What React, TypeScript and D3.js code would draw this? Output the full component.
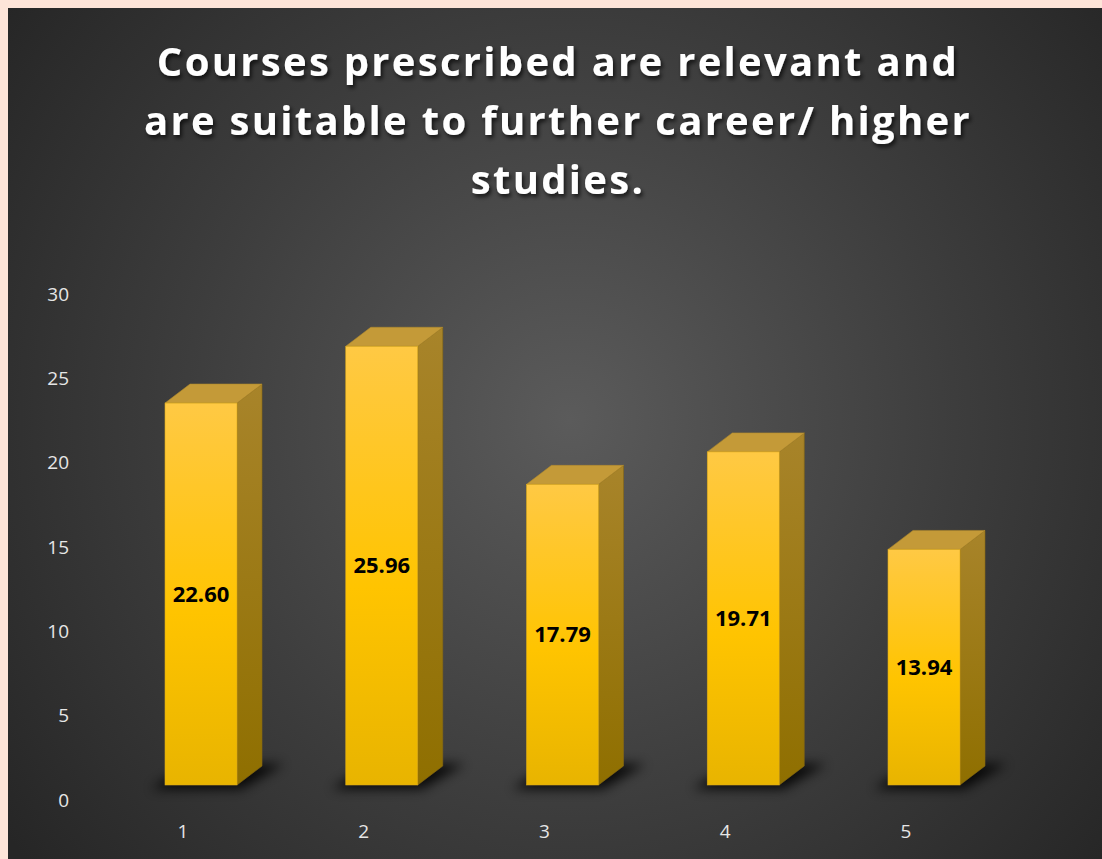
import React from "react";
import * as d3 from "d3";

const categories = ["1", "2", "3", "4", "5"];
const values = [22.6, 25.96, 17.79, 19.71, 13.94];
const valueLabels = ["22.60", "25.96", "17.79", "19.71", "13.94"];
const yTicks = [0, 5, 10, 15, 20, 25, 30];
const titleLines = [
  "Courses prescribed are relevant and",
  "are suitable to further career/ higher",
  "studies.",
];

const W = 1102;
const H = 859;

export default function App() {
  const x = d3.scalePoint<string>().domain(categories).range([183, 906]);
  const yAxis = d3.scaleLinear().domain([0, 30]).range([800, 294]);
  const yBar = d3.scaleLinear().domain([0, 30]).range([785, 278]);
  const barW = 72;
  const frontOffset = 18;
  const dx = 25;
  const dy = -19;
  const font = "'Open Sans', 'DejaVu Sans', sans-serif";

  return (
    <svg
      width={W}
      height={H}
      style={{ position: "absolute", left: 0, top: 0, display: "block" }}
    >
      <defs>
        <radialGradient id="bg" gradientUnits="userSpaceOnUse" cx={570} cy={420} r={700}>
          <stop offset="0" stopColor="#5b5b5b" />
          <stop offset="0.55" stopColor="#3d3d3d" />
          <stop offset="1" stopColor="#262626" />
        </radialGradient>
        <linearGradient id="front" x1="0" y1="0" x2="0" y2="1">
          <stop offset="0" stopColor="#ffc944" />
          <stop offset="0.55" stopColor="#ffc400" />
          <stop offset="1" stopColor="#e8b400" />
        </linearGradient>
        <linearGradient id="side" x1="0" y1="0" x2="0" y2="1">
          <stop offset="0" stopColor="#a8842a" />
          <stop offset="1" stopColor="#8f6f00" />
        </linearGradient>
        <filter id="blur" x="-50%" y="-200%" width="200%" height="500%">
          <feGaussianBlur stdDeviation="6" />
        </filter>
        <filter id="tshadow" x="-10%" y="-30%" width="120%" height="160%">
          <feDropShadow dx="2" dy="3" stdDeviation="2" floodColor="#000" floodOpacity="0.7" />
        </filter>
      </defs>
      <rect x={0} y={0} width={W} height={H} fill="#fde4d8" />
      <rect x={8} y={8} width={W - 8} height={H - 8} fill="url(#bg)" />

      <g filter="url(#tshadow)">
        {titleLines.map((t, i) => (
          <text
            key={i}
            x={558}
            y={76 + i * 59}
            textAnchor="middle"
            fontFamily={font}
            fontWeight={700}
            fontSize={40}
            letterSpacing={2.3}
            fill="#ffffff"
          >
            {t}
          </text>
        ))}
      </g>

      {yTicks.map((t) => (
        <text
          key={t}
          x={69}
          y={yAxis(t)}
          dy="0.35em"
          textAnchor="end"
          fontFamily={font}
          fontSize={19}
          fill="#e6e6e6"
        >
          {t}
        </text>
      ))}

      {categories.map((c) => (
        <text
          key={c}
          x={x(c)}
          y={831}
          dy="0.35em"
          textAnchor="middle"
          fontFamily={font}
          fontSize={19}
          fill="#e6e6e6"
        >
          {c}
        </text>
      ))}

      {categories.map((c, i) => {
        const x0 = (x(c) as number) + frontOffset - barW / 2;
        const x1 = x0 + barW;
        const yb = yBar(0);
        const yt = yBar(values[i]);
        const shadow = [
          [x0 - 14, yb + 4],
          [x1 + 4, yb + 4],
          [x1 + dx + 22, yb + dy - 2],
          [x0 + dx, yb + dy - 2],
        ];
        return (
          <g key={c}>
            <polygon
              points={shadow.map((p) => p.join(",")).join(" ")}
              fill="#000"
              opacity={0.85}
              filter="url(#blur)"
            />
            <polygon
              points={`${x1},${yt} ${x1 + dx},${yt + dy} ${x1 + dx},${yb + dy} ${x1},${yb}`}
              fill="url(#side)"
              stroke="#8a6a10"
              strokeWidth={0.6}
            />
            <polygon
              points={`${x0},${yt} ${x0 + dx},${yt + dy} ${x1 + dx},${yt + dy} ${x1},${yt}`}
              fill="#c49a38"
              stroke="#b08a2c"
              strokeWidth={0.6}
            />
            <rect
              x={x0}
              y={yt}
              width={barW}
              height={yb - yt}
              fill="url(#front)"
              stroke="#d9a81c"
              strokeWidth={0.6}
            />
            <text
              x={(x0 + x1) / 2}
              y={(yt + yb) / 2}
              dy="0.35em"
              textAnchor="middle"
              fontFamily={font}
              fontWeight={700}
              fontSize={22}
              fill="#000"
            >
              {valueLabels[i]}
            </text>
          </g>
        );
      })}
    </svg>
  );
}
